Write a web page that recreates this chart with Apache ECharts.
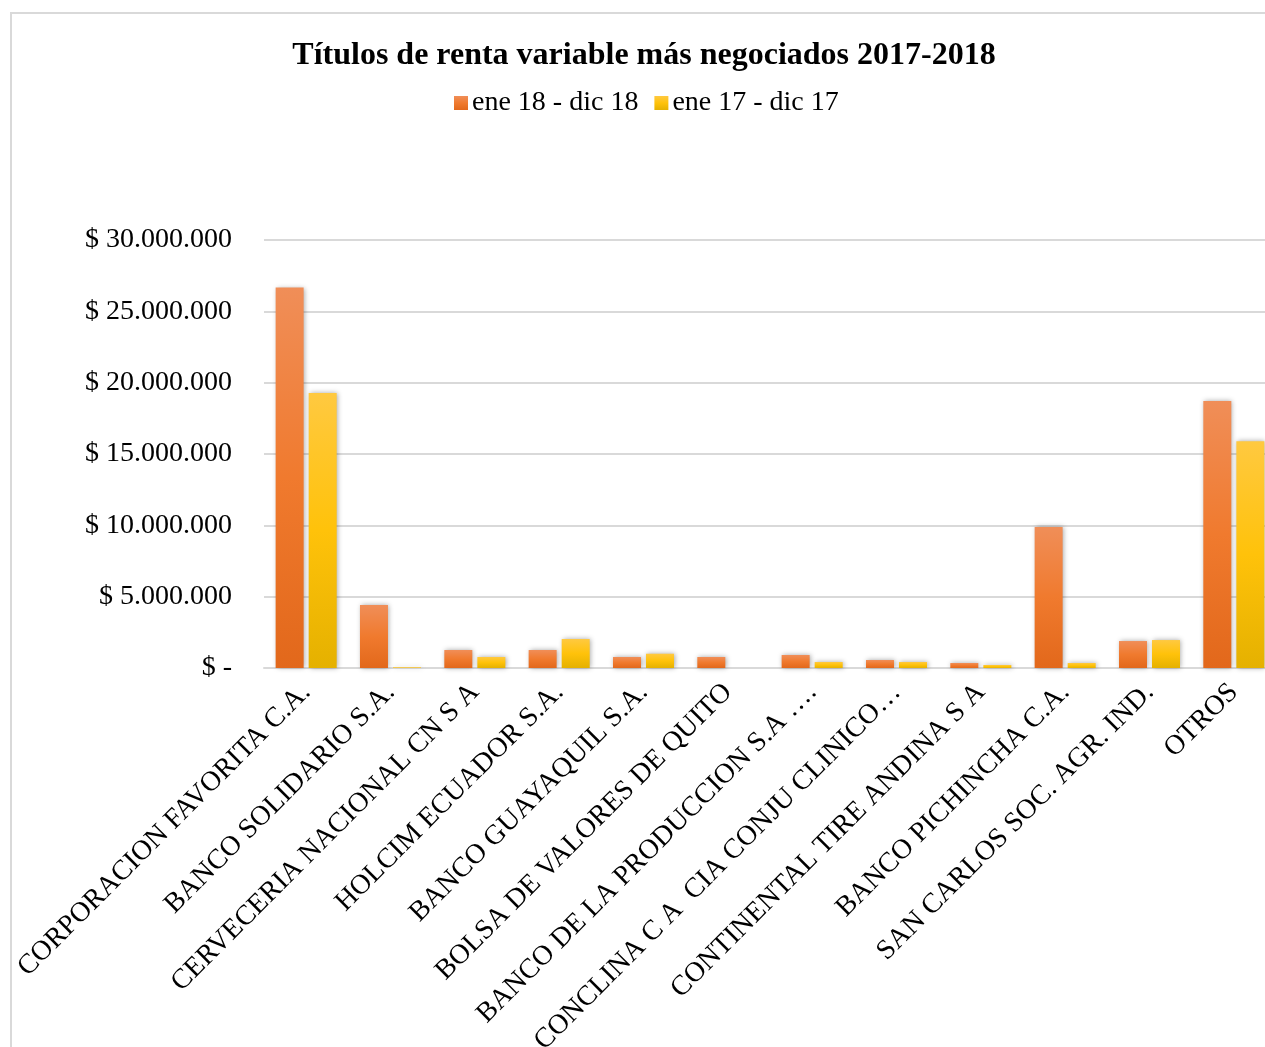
<!DOCTYPE html>
<html>
<head>
<meta charset="utf-8">
<script src="https://cdn.jsdelivr.net/npm/echarts@6/dist/echarts.min.js"></script>
<style>
html,body{margin:0;padding:0;background:#fff;}
#c{width:1265px;height:1047px;}
</style>
</head>
<body>
<div id="c"></div>
<script>
const categories = [
  'CORPORACION FAVORITA C.A.',
  'BANCO SOLIDARIO S.A.',
  'CERVECERIA NACIONAL CN S A',
  'HOLCIM ECUADOR S.A.',
  'BANCO GUAYAQUIL S.A.',
  'BOLSA DE VALORES DE QUITO',
  'BANCO DE LA PRODUCCION S.A ….',
  'CONCLINA C A  CIA CONJU CLINICO…',
  'CONTINENTAL TIRE ANDINA S A',
  'BANCO PICHINCHA C.A.',
  'SAN CARLOS SOC. AGR. IND.',
  'OTROS'
];
const series2018 = [26670000, 4410000, 1260000, 1260000, 770000, 770000, 910000, 560000, 350000, 9880000, 1890000, 18710000];
const series2017 = [19270000, 50000, 770000, 2030000, 1000000, 0, 420000, 420000, 210000, 350000, 1960000, 15900000];
const seriesNames = ['ene 18 - dic 18', 'ene 17 - dic 17'];
const yTicks = { min: 0, max: 30000000, interval: 5000000 };

const chart = echarts.init(document.getElementById('c'));
const serif = '"Liberation Serif", "Times New Roman", serif';

function fmt(v){
  if (v === 0) return '$ -';
  return '$ ' + String(v).replace(/\B(?=(\d{3})+(?!\d))/g, '.');
}
const orangeGrad = new echarts.graphic.LinearGradient(0,0,0,1,[
  {offset:0,color:'#F08E58'},{offset:0.5,color:'#F07A2E'},{offset:1,color:'#E2681B'}]);
const yellowGrad = new echarts.graphic.LinearGradient(0,0,0,1,[
  {offset:0,color:'#FFC940'},{offset:0.5,color:'#FFC20A'},{offset:1,color:'#E5B100'}]);

chart.setOption({
  animation:false,
  backgroundColor:'#fff',
  title:{
    text:'Títulos de renta variable más negociados 2017-2018',
    left:639, top:35, textAlign:'center',
    textStyle:{fontFamily:serif, fontWeight:'bold', fontSize:32, color:'#000'}
  },
  legend:{
    left:449, top:84, itemWidth:14, itemHeight:14, itemGap:16,
    icon:'rect',
    textStyle:{fontFamily:serif, fontSize:28, color:'#000', padding:[0,0,0,-1]},
    data:seriesNames
  },
  graphic:[{
    type:'rect', shape:{x:11,y:13,width:1400,height:1200},
    style:{fill:'none', stroke:'#d9d9d9', lineWidth:2}, silent:true, z:-1
  }],
  grid:{left:264, top:240, width:1012, height:428, outerBoundsMode:'none', containLabel:false},
  xAxis:{
    type:'category', data:categories,
    axisTick:{show:false},
    axisLine:{lineStyle:{color:'#d9d9d9', width:2}},
    axisLabel:{rotate:45, interval:0, margin:20, fontFamily:serif, fontSize:28, color:'#000'}
  },
  yAxis:{
    type:'value', min:yTicks.min, max:yTicks.max, interval:yTicks.interval,
    axisLine:{show:false}, axisTick:{show:false},
    splitLine:{lineStyle:{color:'#d9d9d9', width:2}},
    axisLabel:{margin:32, fontFamily:serif, fontSize:28, color:'#000', formatter:fmt}
  },
  series:[
    {name:seriesNames[0], type:'bar', data:series2018, barWidth:28, barGap:'18%',
     itemStyle:{color:orangeGrad, shadowBlur:5, shadowColor:'rgba(0,0,0,0.35)', shadowOffsetX:1}},
    {name:seriesNames[1], type:'bar', data:series2017, barWidth:28, barGap:'18%',
     itemStyle:{color:yellowGrad, shadowBlur:5, shadowColor:'rgba(0,0,0,0.35)', shadowOffsetX:1}}
  ]
});
</script>
</body>
</html>
